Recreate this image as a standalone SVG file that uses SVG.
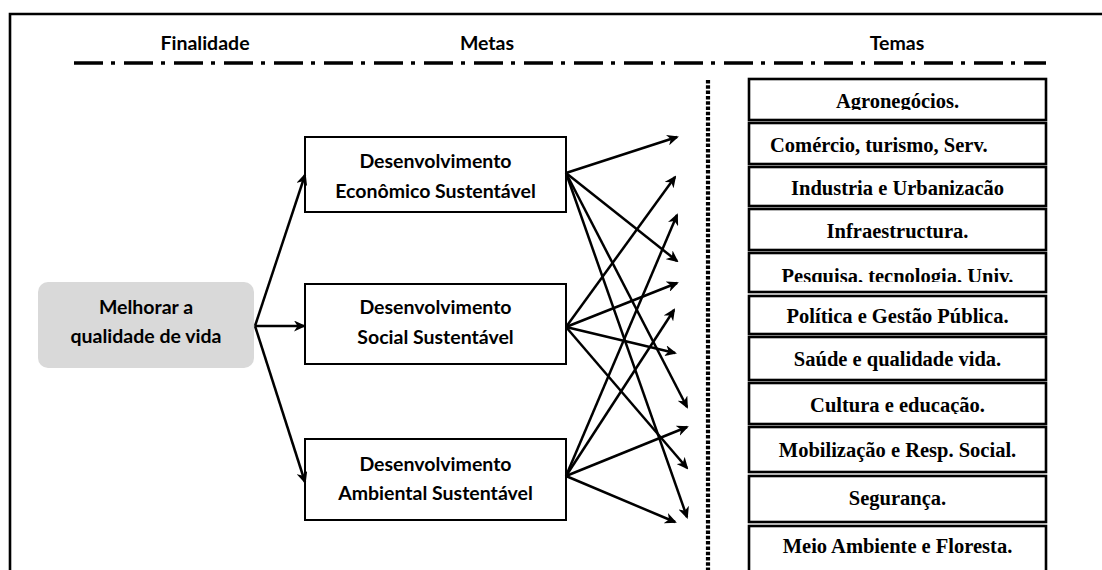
<svg xmlns="http://www.w3.org/2000/svg" width="1102" height="570" viewBox="0 0 1102 570">
<style>
.sans{font-family:Lato,"Open Sans","Liberation Sans",sans-serif;font-weight:700;font-size:19.5px;fill:#000;text-anchor:middle}
.serif{font-family:"Liberation Serif","DejaVu Serif",serif;font-weight:700;font-size:20.5px;fill:#000;text-anchor:middle}
.meta{fill:#fff;stroke:#000;stroke-width:2}
.tema{fill:#fff;stroke:#000;stroke-width:2.6}
.con{fill:none;stroke:#000;stroke-width:2.5;marker-end:url(#ah)}
</style>
<defs>
<marker id="ah" viewBox="0 0 12 11" refX="10" refY="5.5" markerWidth="12" markerHeight="11" markerUnits="userSpaceOnUse" orient="auto">
<path d="M0,0 L12,5.5 L0,11 L3.5,5.5 Z" fill="#000"/>
</marker>
<clipPath id="c1"><rect x="750" y="80" width="295" height="30"/></clipPath>
<clipPath id="c3"><rect x="750" y="168" width="295" height="29"/></clipPath>
<clipPath id="c5"><rect x="750" y="254" width="295" height="28"/></clipPath>
<clipPath id="c8"><rect x="750" y="384" width="295" height="30"/></clipPath>
</defs>
<rect width="1102" height="570" fill="#fff"/>
<g id="frame" fill="none" stroke="#000" stroke-width="2.6">
<path d="M10,570 L10,14 L1102,14"/>
</g>
<g id="headers">
<text class="sans" x="205" y="50">Finalidade</text>
<text class="sans" x="487" y="50">Metas</text>
<text class="sans" x="897" y="50">Temas</text>
<line x1="74" y1="63" x2="1046" y2="63" stroke="#000" stroke-width="3.5" stroke-dasharray="29 8 4 9"/>
<line x1="708" y1="80" x2="708" y2="570" stroke="#000" stroke-width="4.2" stroke-dasharray="3.5 1.8"/>
</g>
<g id="finalidade">
<rect x="38" y="282" width="216" height="86" rx="10" fill="#d9d9d9"/>
<text class="sans" x="146" y="314">Melhorar a</text>
<text class="sans" x="146" y="343">qualidade de vida</text>
</g>
<g id="meta-economico">
<rect class="meta" x="305" y="137" width="261" height="75"/>
<text class="sans" x="435.5" y="168">Desenvolvimento</text>
<text class="sans" x="435.5" y="198">Econômico Sustentável</text>
</g>
<g id="meta-social">
<rect class="meta" x="305" y="284" width="261" height="80"/>
<text class="sans" x="435.5" y="314">Desenvolvimento</text>
<text class="sans" x="435.5" y="344">Social Sustentável</text>
</g>
<g id="meta-ambiental">
<rect class="meta" x="305" y="439" width="261" height="81"/>
<text class="sans" x="435.5" y="471">Desenvolvimento</text>
<text class="sans" x="435.5" y="500">Ambiental Sustentável</text>
</g>
<g id="tema-1"><rect class="tema" x="749" y="79" width="297" height="41"/><text class="serif" x="897.5" y="108" clip-path="url(#c1)">Agronegócios.</text></g>
<g id="tema-2"><rect class="tema" x="749" y="123" width="297" height="41"/><text class="serif" x="770" y="152" style="text-anchor:start">Comércio, turismo, Serv.</text></g>
<g id="tema-3"><rect class="tema" x="749" y="167" width="297" height="39"/><text class="serif" x="897.5" y="195" clip-path="url(#c3)">Industria e Urbanizacão</text></g>
<g id="tema-4"><rect class="tema" x="749" y="209" width="297" height="41"/><text class="serif" x="897.5" y="238">Infraestructura.</text></g>
<g id="tema-5"><rect class="tema" x="749" y="253" width="297" height="39"/><text class="serif" x="897.5" y="283" clip-path="url(#c5)">Pesquisa, tecnologia, Univ.</text></g>
<g id="tema-6"><rect class="tema" x="749" y="296" width="297" height="38"/><text class="serif" x="897.5" y="323">Política e Gestão Pública.</text></g>
<g id="tema-7"><rect class="tema" x="749" y="337" width="297" height="43"/><text class="serif" x="897.5" y="366">Saúde e qualidade vida.</text></g>
<g id="tema-8"><rect class="tema" x="749" y="383" width="297" height="41"/><text class="serif" x="897.5" y="412" clip-path="url(#c8)">Cultura e educação.</text></g>
<g id="tema-9"><rect class="tema" x="749" y="427" width="297" height="45"/><text class="serif" x="897.5" y="457">Mobilização e Resp. Social.</text></g>
<g id="tema-10"><rect class="tema" x="749" y="476" width="297" height="46"/><text class="serif" x="897.5" y="505">Segurança.</text></g>
<g id="tema-11"><rect class="tema" x="749" y="526" width="297" height="50"/><text class="serif" x="897.5" y="553">Meio Ambiente e Floresta.</text></g>
<g id="connectors">
<path class="con" d="M255,326 L305,175"/>
<path class="con" d="M255,326 L304,326"/>
<path class="con" d="M255,326 L305,482"/>
<path class="con" d="M566,173 L677,137"/>
<path class="con" d="M566,173 L677,261"/>
<path class="con" d="M566,173 L687,407"/>
<path class="con" d="M566,173 L687,517"/>
<path class="con" d="M566,327 L675,177"/>
<path class="con" d="M566,327 L677,283"/>
<path class="con" d="M566,327 L675,353"/>
<path class="con" d="M566,327 L687,468"/>
<path class="con" d="M566,476 L677,215"/>
<path class="con" d="M566,476 L674,310"/>
<path class="con" d="M566,476 L687,427"/>
<path class="con" d="M566,476 L675,522"/>
</g>
</svg>
